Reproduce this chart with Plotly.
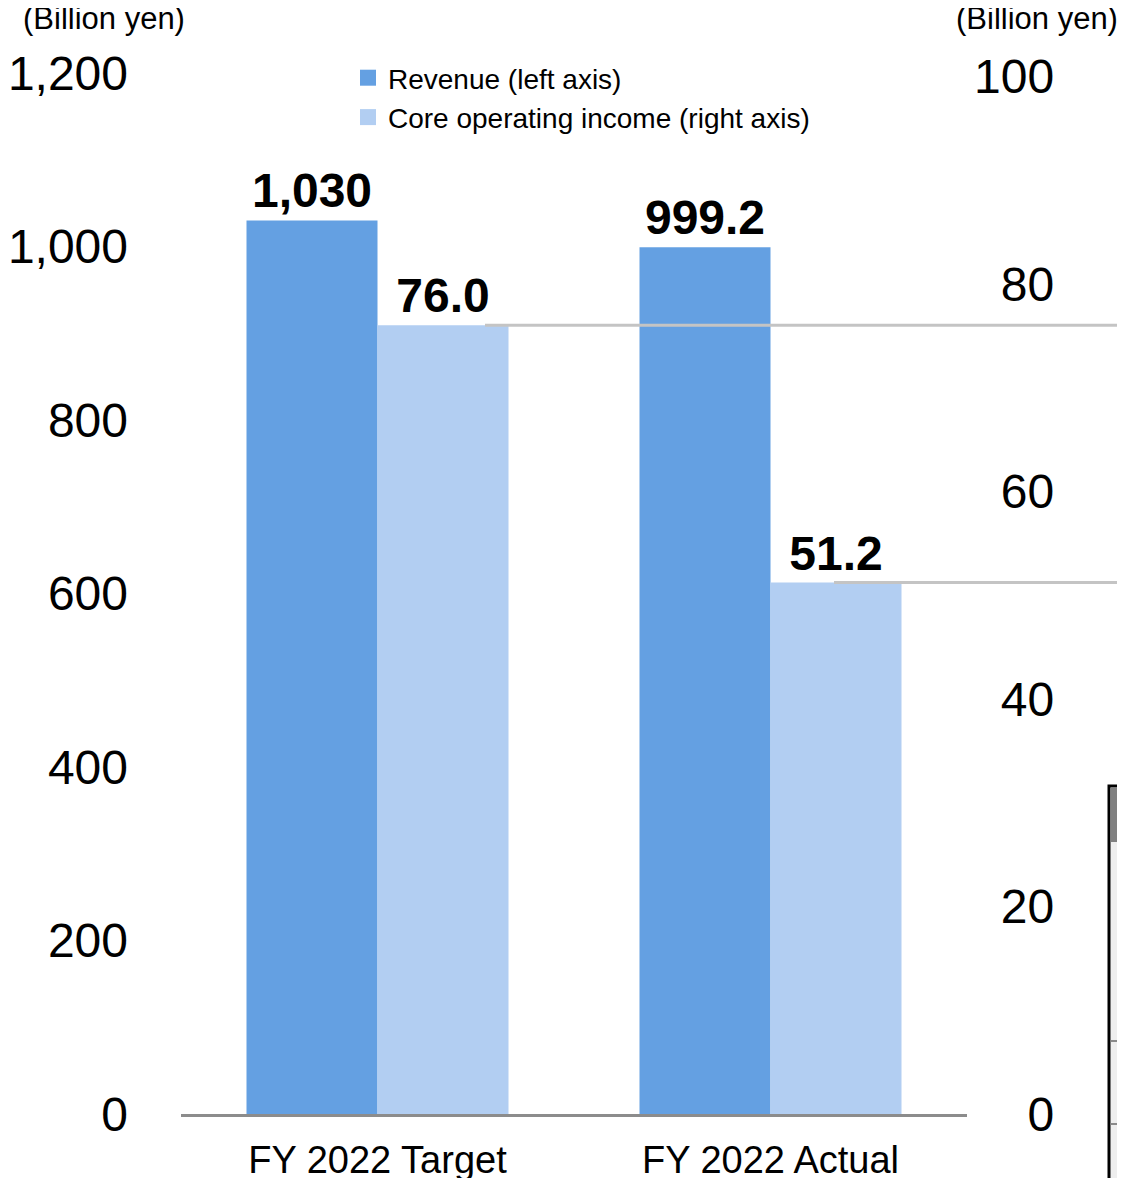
import plotly.graph_objects as go

categories = ["FY 2022 Target", "FY 2022 Actual"]
revenue = [1030, 999.2]
core_income = [76.0, 51.2]
revenue_labels = ["1,030", "999.2"]
income_labels = ["76.0", "51.2"]
left_ticks = [0, 200, 400, 600, 800, 1000, 1200]
right_ticks = [0, 20, 40, 60, 80, 100]
series_names = ["Revenue (left axis)", "Core operating income (right axis)"]

FONT = "Liberation Sans, Arial, sans-serif"
DARK = "#64a0e2"
LIGHT = "#b2cef2"

# page body has an 8px offset; figure is sized to the visible window
OFF = 8
W, H = 1125 - OFF, 1178 - OFF
L, R, T, B = 181 - OFF, 158, 73 - OFF, 64
pw, ph = W - L - R, H - T - B

def px_x(x):  # reference-screenshot pixel -> paper
    return (x - 181) / pw

def px_y(y):
    return (1114 - y) / ph

fig = go.Figure()
fig.add_trace(go.Bar(
    x=categories, y=revenue, name=series_names[0], showlegend=False,
    marker=dict(color=DARK, line=dict(width=0)),
    width=1/3, offset=-1/3,
    text=revenue_labels, textposition="outside", constraintext="none",
    textfont=dict(family=FONT, size=48, color="black", weight="bold"),
    cliponaxis=False, yaxis="y",
))
fig.add_trace(go.Bar(
    x=categories, y=core_income, name=series_names[1], showlegend=False,
    marker=dict(color=LIGHT, line=dict(width=0)),
    width=1/3, offset=0,
    text=income_labels, textposition="outside", constraintext="none",
    textfont=dict(family=FONT, size=48, color="black", weight="bold"),
    cliponaxis=False, yaxis="y2",
))
# legend entries with larger square swatches
for nm, col in zip(series_names, [DARK, LIGHT]):
    fig.add_trace(go.Scatter(
        x=[None], y=[None], mode="markers", name=nm,
        marker=dict(symbol="square", size=20, color=col), showlegend=True,
    ))

# leader lines from the income bars to the right edge
line_starts = [485, 834]
for v, xs in zip(core_income, line_starts):
    fig.add_shape(type="line", xref="paper", yref="y2",
                  x0=px_x(xs), x1=px_x(1130), y0=v, y1=v,
                  line=dict(color="#c4c4c4", width=3), layer="above")

# partial table frame at the right edge (as in the source image)
fig.add_shape(type="rect", xref="paper", yref="paper",
              x0=px_x(1109), x1=px_x(1135), y0=px_y(1190), y1=px_y(786),
              fillcolor="#eeeeee", line=dict(color="black", width=3), layer="above")
fig.add_shape(type="rect", xref="paper", yref="paper",
              x0=px_x(1110.5), x1=px_x(1135), y0=px_y(842), y1=px_y(787.5),
              fillcolor="#808080", line=dict(width=0), layer="above")
for yy in [1041, 1124]:
    fig.add_shape(type="line", xref="paper", yref="paper",
                  x0=px_x(1110.5), x1=px_x(1135), y0=px_y(yy), y1=px_y(yy),
                  line=dict(color="#8a8a8a", width=2), layer="above")

fig.add_annotation(text="(Billion yen)", xref="paper", yref="paper",
                   x=px_x(104), y=px_y(18), showarrow=False,
                   xanchor="center", yanchor="middle",
                   font=dict(family=FONT, size=31, color="black"))
fig.add_annotation(text="(Billion yen)", xref="paper", yref="paper",
                   x=px_x(1037), y=px_y(18), showarrow=False,
                   xanchor="center", yanchor="middle",
                   font=dict(family=FONT, size=31, color="black"))

fs = "\u2007"
right_text = [fs * (3 - len(str(t))) + str(t) for t in right_ticks]

fig.update_layout(
    width=W, height=H,
    margin=dict(l=L, r=R, t=T, b=B, autoexpand=False),
    paper_bgcolor="white", plot_bgcolor="white",
    font=dict(family=FONT, color="black"),
    showlegend=True,
    legend=dict(x=px_x(348), y=px_y(53), xanchor="left", yanchor="top",
                font=dict(family=FONT, size=28, color="black"),
                bgcolor="rgba(0,0,0,0)", tracegroupgap=0, traceorder="normal",
                itemsizing="trace"),
    xaxis=dict(type="category", range=[-0.5, 1.5], showline=True,
               linecolor="#8c8c8c", linewidth=3, ticks="", showgrid=False,
               tickfont=dict(family=FONT, size=38, color="black"),
               ticklabelstandoff=10, fixedrange=True),
    yaxis=dict(range=[0, 1200], tickvals=left_ticks, tickformat=",",
               showgrid=False, zeroline=False, showline=False, ticks="",
               tickfont=dict(family=FONT, size=48, color="black"),
               ticklabelstandoff=52),
    yaxis2=dict(range=[0, 100.3], tickvals=right_ticks, ticktext=right_text,
                overlaying="y", side="right", showgrid=False, zeroline=False,
                showline=False, ticks="",
                tickfont=dict(family=FONT, size=48, color="black"),
                ticklabelstandoff=6),
    bargap=1/3,
)

fig.write_html("out.html")
